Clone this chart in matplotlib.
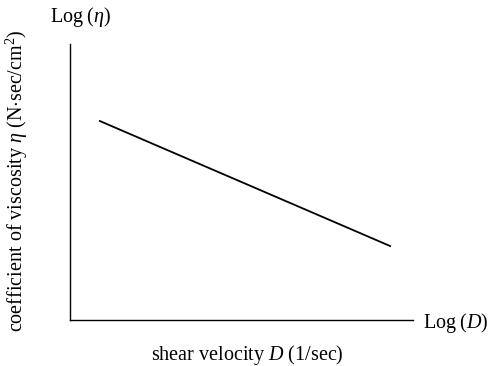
import matplotlib
matplotlib.use('Agg')
import matplotlib.pyplot as plt

# schematic line: log(D) vs log(eta), axes units 0..1
log_d = [0.087, 0.933]
log_eta = [0.721, 0.268]

plt.rcParams['font.family'] = ['Liberation Serif', 'DejaVu Serif']
plt.rcParams['mathtext.fontset'] = 'custom'
plt.rcParams['mathtext.rm'] = 'Liberation Serif'
plt.rcParams['mathtext.it'] = 'Liberation Serif:italic'

W, H = 493, 366
fig = plt.figure(figsize=(W / 100, H / 100), dpi=100)
ax = fig.add_axes([0.142, 0.1257, 0.696, 0.754])
ax.plot(log_d, log_eta, color='black', linewidth=1.3)
ax.set_xlim(0, 1)
ax.set_ylim(0, 1)
for s in ['top', 'right']:
    ax.spines[s].set_visible(False)
for s in ['left', 'bottom']:
    ax.spines[s].set_linewidth(1.0)
ax.set_xticks([])
ax.set_yticks([])

fs = 14.5
fig.text(247 / W, 1 - 355 / H, r'shear velocity $\mathit{D}$ (1/sec)', fontsize=fs,
         ha='center', va='center')
fig.text(17 / W, 1 - 181 / H,
         r'coefficient of viscosity $\mathit{\eta}$ (N$\cdot$sec/cm$^2$)',
         fontsize=fs, rotation=90, ha='center', va='center')
fig.text(80 / W, 1 - 17 / H, r'Log$\;$($\mathit{\eta}$)', fontsize=fs,
         ha='center', va='center')
fig.text(423 / W, 1 - 323 / H, r'Log$\;$($\mathit{D}$)', fontsize=fs,
         ha='left', va='center')

fig.savefig('out.png', dpi=100)
